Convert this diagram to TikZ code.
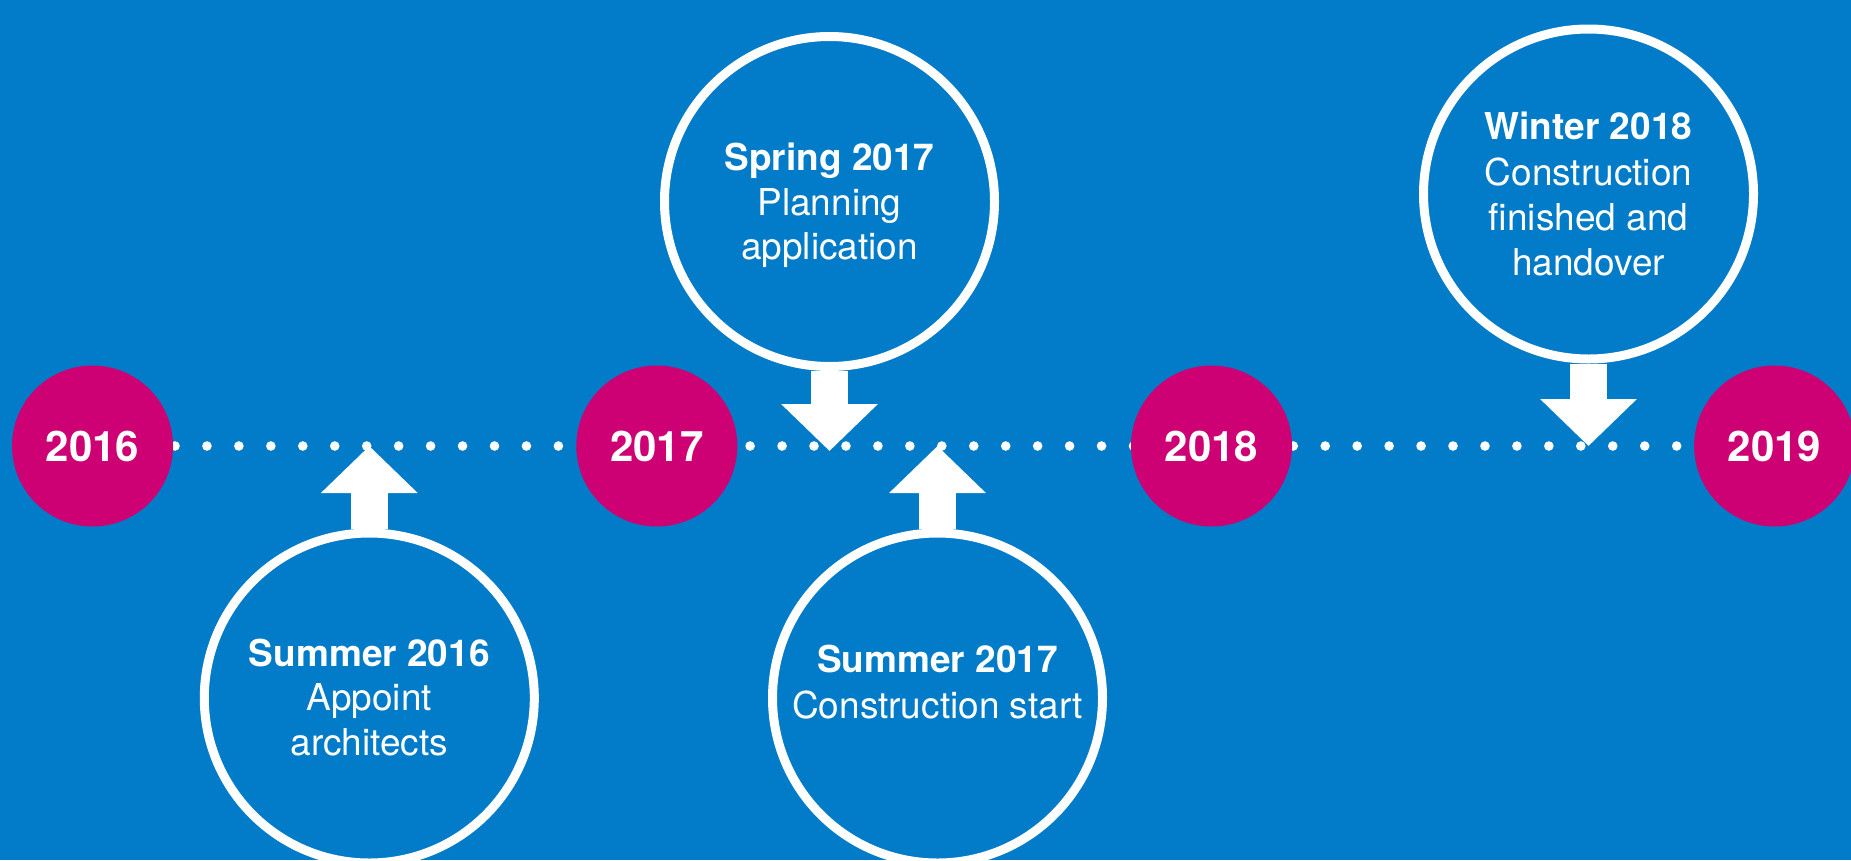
\documentclass[tikz,border=0pt]{standalone}
\usepackage{fontspec}
\setmainfont{TeX Gyre Heros}
\usetikzlibrary{arrows.meta}
\definecolor{bg}{RGB}{2,123,200}
\definecolor{mag}{RGB}{205,0,116}
\begin{document}
\begin{tikzpicture}[x=1pt,y=-1pt,
  year/.style={circle,fill=mag,minimum size=161pt,inner sep=0pt,text=white,font=\fontsize{42}{50}\selectfont\bfseries},
  event/.style={circle,draw=white,line width=9pt,minimum size=330pt,inner sep=0pt},
  txt/.style={text=white,anchor=base,inner sep=0pt,font=\fontsize{37}{44}\selectfont},
  hd/.style={txt,font=\fontsize{37}{44}\selectfont\bfseries},
  conn/.style={white,line width=37pt,-{Triangle[width=94pt,length=47pt]}}]
\fill[bg] (0,0) rectangle (1851,860);
\useasboundingbox (0,0) rectangle (1851,860);
% dotted timeline
\foreach \i in {0,...,47} \fill[white] ({175+31.95*\i},446) circle (4.8pt);
% year nodes
\node[year] (y16) at (92.5,446) {2016};
\node[year] (y17) at (656.8,446) {2017};
\node[year] (y18) at (1211.5,446) {2018};
\node[year] (y19) at (1774.6,446) {2019};
% event circles
\node[event] (spring) at (829.5,201.5) {};
\node[event] (winter) at (1588.5,194) {};
\node[event] (sum16) at (369.3,698) {};
\node[event] (sum17) at (937.5,698) {};
% tip coordinates on the timeline
\coordinate (tspring) at (829.5,451);
\coordinate (twinter) at (1588.5,446);
\coordinate (tsum16) at (369.3,446);
\coordinate (tsum17) at (937.5,446);
% arrows
\draw[conn] (spring.south) -- (tspring);
\draw[conn] (winter.south) -- (twinter);
\draw[conn] (sum16.north) -- (tsum16);
\draw[conn] (sum17.north) -- (tsum17);
% texts
\node[hd] (sp1) at (829.5,170) {Spring 2017};
\node[txt] (sp2) at (829.5,215) {Planning};
\node[txt] (sp3) at (829.5,259) {application};
\node[hd] (wi1) at (1588.5,139.5) {Winter 2018};
\node[txt] (wi2) at (1588.5,185) {Construction};
\node[txt] (wi3) at (1588.5,230) {finished and};
\node[txt] (wi4) at (1588.5,275.5) {handover};
\node[hd] (s161) at (369.3,666) {Summer 2016};
\node[txt] (s162) at (369.3,710.5) {Appoint};
\node[txt] (s163) at (369.3,755) {architects};
\node[hd] (s171) at (937.5,672.5) {Summer 2017};
\node[txt] (s172) at (937.5,718) {Construction start};
\end{tikzpicture}
\end{document}
